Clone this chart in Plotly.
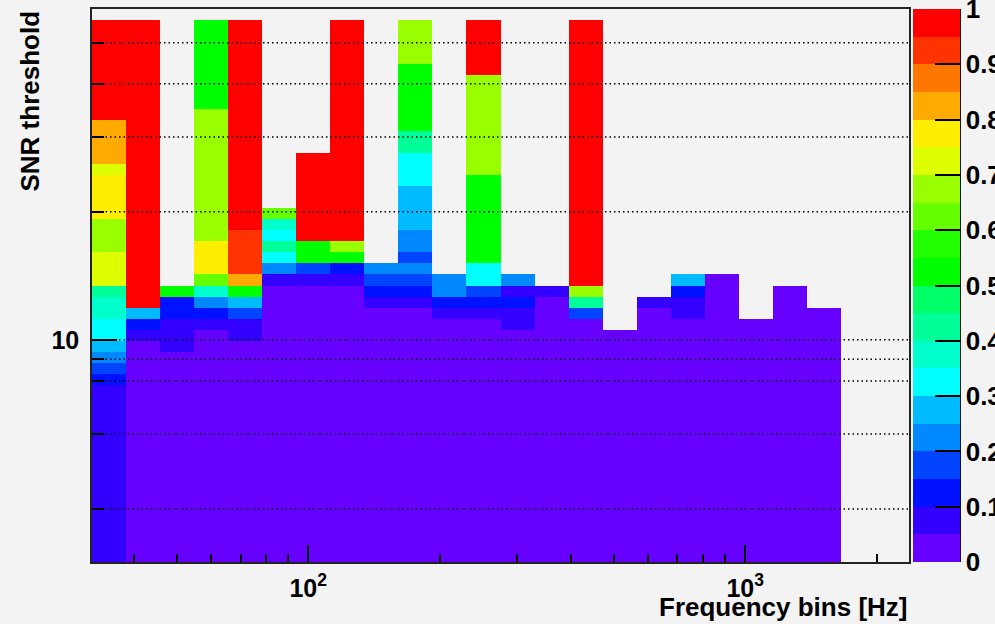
import numpy as np
import plotly.graph_objects as go

# ---------------- data ----------------
# Frequency axis: 24 log-spaced bins (only the first 22 contain entries)
X_LOW_HZ = 32.0
X_HIGH_HZ = 2371.0
N_X_BINS = 24
N_FILLED_X_BINS = 22

# SNR threshold axis: 50 log-spaced bins
Y_LOW = 3.0
Y_HIGH = 60.0
N_Y_BINS = 50

# Each column (frequency bin), read from the top row downwards as
# (number of SNR bins, value); None = empty bin
E = None
col01 = [(1, E), (9, .975), (4, .825), (1, .725), (4, .775), (3, .675), (3, .725), (1, .425),
         (2, .375), (2, .325), (1, .275), (1, .225), (1, .175), (1, .125), (16, .075)]
col02 = [(1, E), (26, .975), (1, .275), (1, .125), (1, .075), (20, .025)]
col03 = [(25, E), (1, .525), (2, .125), (3, .075), (19, .025)]
col04 = [(1, E), (8, .525), (12, .675), (3, .775), (1, .625), (1, .375), (1, .225), (1, .125),
         (1, .075), (21, .025)]
col05 = [(1, E), (19, .975), (4, .925), (1, .825), (1, .525), (1, .275), (1, .175), (2, .075),
         (20, .025)]
col06 = [(18, E), (1, .625), (1, .375), (1, .325), (1, .425), (1, .325), (1, .225), (1, .075),
         (25, .025)]
col07 = [(13, E), (8, .975), (2, .525), (1, .175), (1, .075), (25, .025)]
col08 = [(1, E), (20, .975), (1, .675), (1, .525), (1, .125), (1, .075), (25, .025)]
col09 = [(23, E), (1, .225), (1, .175), (1, .125), (1, .075), (23, .025)]
col10 = [(1, E), (4, .675), (6, .525), (2, .425), (3, .325), (4, .275), (2, .225), (1, .175),
         (1, .225), (1, .175), (1, .125), (1, .075), (23, .025)]
col11 = [(24, E), (2, .225), (1, .125), (1, .075), (22, .025)]
col12 = [(1, E), (5, .975), (9, .675), (8, .525), (2, .325), (1, .175), (1, .125), (1, .075),
         (22, .025)]
col13 = [(24, E), (1, .225), (1, .075), (1, .125), (2, .075), (21, .025)]
col14 = [(25, E), (1, .075), (24, .025)]
col15 = [(1, E), (24, .975), (1, .675), (1, .425), (1, .175), (22, .025)]
col16 = [(29, E), (21, .025)]
col17 = [(26, E), (1, .075), (23, .025)]
col18 = [(24, E), (1, .275), (1, .125), (2, .075), (22, .025)]
col19 = [(24, E), (26, .025)]
col20 = [(28, E), (22, .025)]
col21 = [(25, E), (25, .025)]
col22 = [(27, E), (23, .025)]
columns = [col01, col02, col03, col04, col05, col06, col07, col08, col09, col10, col11,
           col12, col13, col14, col15, col16, col17, col18, col19, col20, col21, col22]

# ROOT-like 20-level palette (from 0 to 1)
PALETTE = ["#6600FF", "#3300FF", "#0011FF", "#0044FF", "#0088FF", "#00BBFF", "#00FFFF",
           "#00FFCC", "#00FF99", "#00FF66", "#00FF00", "#22FF00", "#66FF00", "#99FF00",
           "#DDFF00", "#FFEE00", "#FFAA00", "#FF7700", "#FF3300", "#FF0000"]

CBAR_TICKS = [0, 0.1, 0.2, 0.3, 0.4, 0.5, 0.6, 0.7, 0.8, 0.9, 1.0]
CBAR_LABELS = ["0", "0.1", "0.2", "0.3", "0.4", "0.5", "0.6", "0.7", "0.8", "0.9", "1"]
X_MAJOR = [100, 1000]
X_MAJOR_TEXT = ["10<sup>2</sup>", "10<sup>3</sup>"]
X_MINOR = [40, 50, 60, 70, 80, 90, 200, 300, 400, 500, 600, 700, 800, 900, 2000]
Y_MAJOR = [10]
Y_MINOR = [4, 6, 8, 9, 20, 30, 40, 50]
Y_GRID = [4, 6, 8, 9, 10, 20, 30, 40, 50]

# ---------------- build ----------------
x_edges = np.logspace(np.log10(X_LOW_HZ), np.log10(X_HIGH_HZ), N_X_BINS + 1)[:N_FILLED_X_BINS + 1]
y_edges = np.logspace(np.log10(Y_LOW), np.log10(Y_HIGH), N_Y_BINS + 1)

cols_expanded = []
for runs in columns:
    vals = []
    for n, v in runs:
        vals += [v] * n
    cols_expanded.append(vals[::-1])  # bottom -> top
z = [[cols_expanded[c][r] for c in range(len(columns))] for r in range(N_Y_BINS)]

n = len(PALETTE)
colorscale = []
for i, c in enumerate(PALETTE):
    colorscale.append([i / n, c])
    colorscale.append([(i + 1) / n, c])

FONT = "Liberation Sans"
BG = "#F3F3F3"
ML, MR, MT, MB = 92, 86, 9, 62
PLOT_W = 995 - ML - MR
PLOT_H = 624 - MT - MB
CB_X = (913 - ML) / PLOT_W
CB_THICK = 47

heat = go.Heatmap(
    x=x_edges, y=y_edges, z=z, zmin=0, zmax=1, colorscale=colorscale,
    zsmooth=False, hoverongaps=False,
    colorbar=dict(
        thickness=CB_THICK, thicknessmode="pixels", len=1, lenmode="fraction",
        x=CB_X, xanchor="left", xpad=0, y=0.5, yanchor="middle", ypad=0,
        outlinewidth=0, ticks="inside", ticklen=25, tickwidth=1.5, tickcolor="black",
        tickmode="array", tickvals=CBAR_TICKS, ticktext=CBAR_LABELS,
        ticklabeloverflow="allow",
        tickfont=dict(family=FONT, size=26, color="black", weight="bold"),
    ),
)

# dotted horizontal grid lines drawn on top of the cells
gx, gy = [], []
for v in Y_GRID:
    gx += [X_LOW_HZ, X_HIGH_HZ, None]
    gy += [v, v, None]
grid = go.Scatter(x=gx, y=gy, mode="lines", hoverinfo="skip", showlegend=False,
                  line=dict(color="black", width=1.5, dash="1.5px,3px"))

fig = go.Figure([heat, grid])

# right border of the palette axis (thin black box)
xr = CB_X + CB_THICK / PLOT_W
annotations = [
    dict(text="Frequency bins [Hz]", xref="paper", yref="paper", x=1, y=0,
         xanchor="right", yanchor="top", yshift=-28, showarrow=False,
         font=dict(family=FONT, size=26, color="black", weight="bold")),
    dict(text="SNR threshold", xref="paper", yref="paper", x=(29 - ML) / PLOT_W, y=1,
         xanchor="center", yanchor="top", textangle=-90, showarrow=False,
         font=dict(family=FONT, size=26, color="black", weight="bold")),
    dict(text=" ", xref="paper", yref="paper", x=xr, y=0.5, xanchor="center",
         yanchor="middle", showarrow=False, width=1, height=PLOT_H, borderpad=0,
         bgcolor="#111111", borderwidth=0, font=dict(size=2)),
]

fig.update_layout(
    width=995, height=624,
    margin=dict(l=ML, r=MR, t=MT, b=MB, autoexpand=False),
    paper_bgcolor=BG, plot_bgcolor=BG,
    font=dict(family=FONT, color="black"),
    xaxis=dict(
        type="log", range=[np.log10(X_LOW_HZ), np.log10(X_HIGH_HZ)],
        showgrid=False, zeroline=False, showline=True, mirror=True,
        linecolor="#222222", linewidth=1.5, layer="above traces",
        ticks="inside", ticklen=17, tickwidth=1.5, tickcolor="black",
        tickmode="array", tickvals=X_MAJOR, ticktext=X_MAJOR_TEXT,
        ticklabelstandoff=3,
        tickfont=dict(family=FONT, size=25, color="black", weight="bold"),
        minor=dict(tickmode="array", tickvals=X_MINOR, ticks="inside", ticklen=8,
                   tickwidth=1.5, tickcolor="black", showgrid=False),
    ),
    yaxis=dict(
        type="log", range=[np.log10(Y_LOW), np.log10(Y_HIGH)],
        showgrid=False, zeroline=False, showline=True, mirror=True,
        linecolor="#222222", linewidth=1.5, layer="above traces",
        ticks="inside", ticklen=25, tickwidth=1.5, tickcolor="black",
        tickmode="array", tickvals=Y_MAJOR, ticktext=["10"],
        tickfont=dict(family=FONT, size=25, color="black", weight="bold"),
        ticklabelstandoff=6,
        minor=dict(tickmode="array", tickvals=Y_MINOR, ticks="inside", ticklen=12,
                   tickwidth=1.5, tickcolor="black", showgrid=False),
    ),
    annotations=annotations,
)

fig.write_html("out.html")
